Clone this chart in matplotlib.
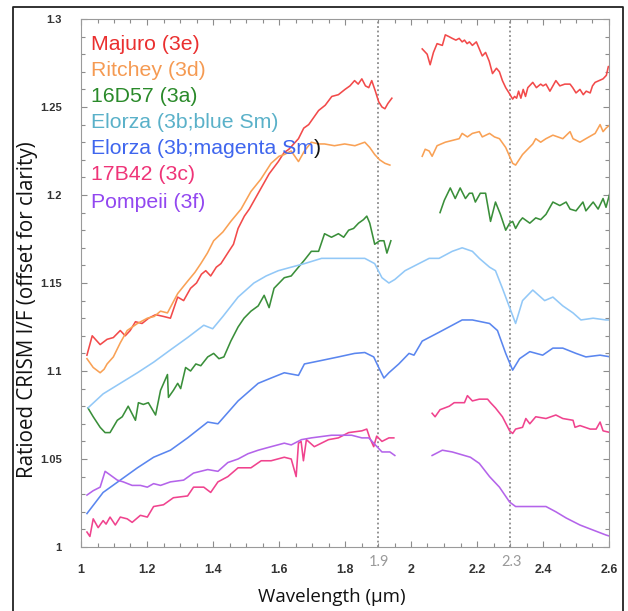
import numpy as np
import matplotlib
matplotlib.use("Agg")
import matplotlib.pyplot as plt
from matplotlib.ticker import MultipleLocator, FixedLocator
from matplotlib.lines import Line2D

nan = np.nan

# ---------------- data ----------------
majuro_w = [1.018, 1.034, 1.058, 1.079, 1.098, 1.119, 1.134, 1.149, 1.165, 1.185, 1.205, 1.226, 1.250, 1.271,
            1.293, 1.311, 1.332, 1.350, 1.365, 1.378, 1.393, 1.410, 1.424, 1.448, 1.462, 1.476, 1.495, 1.510,
            1.537, 1.555, 1.570, 1.598, 1.615, 1.630, 1.659, 1.675, 1.690, 1.720, 1.740, 1.760, 1.780, 1.800,
            1.815, 1.829, 1.840, 1.851, 1.862, 1.872, 1.881, 1.892, 1.902, 1.912, 1.921, 1.930, 1.942,
            1.990,
            2.034, 2.049, 2.058, 2.068, 2.079, 2.095, 2.104, 2.115, 2.125, 2.136, 2.146, 2.155, 2.162, 2.170,
            2.177, 2.186, 2.198, 2.207, 2.216, 2.226, 2.237, 2.247, 2.259, 2.268, 2.277, 2.287, 2.297, 2.308,
            2.314, 2.320, 2.326, 2.333, 2.340, 2.347, 2.354, 2.369, 2.380, 2.393, 2.400, 2.409, 2.421, 2.430,
            2.439, 2.451, 2.466, 2.482, 2.490, 2.500, 2.512, 2.522, 2.531, 2.543, 2.550, 2.558, 2.570, 2.582,
            2.592, 2.598, 2.605]
majuro_v = [1.109, 1.120, 1.115, 1.118, 1.119, 1.123, 1.120, 1.123, 1.128, 1.127, 1.130, 1.132, 1.131, 1.130,
            1.142, 1.140, 1.147, 1.150, 1.155, 1.157, 1.154, 1.159, 1.161, 1.168, 1.172, 1.181, 1.188, 1.192,
            1.201, 1.207, 1.212, 1.219, 1.224, 1.226, 1.232, 1.238, 1.240, 1.248, 1.251, 1.256, 1.257, 1.260,
            1.262, 1.265, 1.263, 1.266, 1.262, 1.261, 1.265, 1.259, 1.253, 1.250, 1.249, 1.252, 1.255,
            nan,
            1.283, 1.280, 1.274, 1.281, 1.286, 1.285, 1.291, 1.290, 1.289, 1.288, 1.289, 1.287, 1.288, 1.286,
            1.287, 1.285, 1.287, 1.283, 1.279, 1.281, 1.276, 1.269, 1.272, 1.270, 1.265, 1.261, 1.258, 1.2545,
            1.256, 1.255, 1.259, 1.255, 1.260, 1.256, 1.261, 1.264, 1.261, 1.263, 1.262, 1.263, 1.259, 1.262,
            1.265, 1.262, 1.263, 1.263, 1.261, 1.258, 1.260, 1.257, 1.259, 1.258, 1.262, 1.264, 1.265, 1.266,
            1.268, 1.273, 1.273]

ritchey_w = [1.018, 1.037, 1.058, 1.070, 1.079, 1.098, 1.119, 1.140, 1.171, 1.201, 1.222, 1.241, 1.262, 1.293,
             1.323, 1.345, 1.363, 1.383, 1.402, 1.430, 1.454, 1.485, 1.515, 1.545, 1.576, 1.600, 1.616, 1.637,
             1.659, 1.677, 1.698, 1.720, 1.738, 1.768, 1.799, 1.830, 1.860, 1.875, 1.890, 1.905, 1.921, 1.936,
             1.990,
             2.034, 2.043, 2.055, 2.064, 2.079, 2.104, 2.125, 2.146, 2.155, 2.171, 2.186, 2.207, 2.216, 2.238,
             2.253, 2.268, 2.287, 2.308, 2.317, 2.338, 2.369, 2.378, 2.393, 2.409, 2.430, 2.445, 2.460, 2.482,
             2.491, 2.512, 2.530, 2.558, 2.573, 2.582, 2.591, 2.604]
ritchey_v = [1.107, 1.102, 1.099, 1.101, 1.104, 1.108, 1.116, 1.123, 1.127, 1.130, 1.131, 1.134, 1.133, 1.144,
             1.151, 1.156, 1.161, 1.167, 1.174, 1.179, 1.185, 1.192, 1.202, 1.209, 1.218, 1.222, 1.223, 1.225,
             1.219, 1.225, 1.230, 1.229, 1.229, 1.228, 1.229, 1.228, 1.230, 1.227, 1.223, 1.220, 1.218, 1.217,
             nan,
             1.222, 1.226, 1.225, 1.222, 1.228, 1.230, 1.231, 1.232, 1.235, 1.233, 1.235, 1.236, 1.233, 1.235,
             1.233, 1.232, 1.227, 1.218, 1.217, 1.223, 1.229, 1.232, 1.230, 1.232, 1.234, 1.233, 1.232, 1.236,
             1.232, 1.230, 1.232, 1.235, 1.240, 1.236, 1.238, 1.240]

d16_w = [1.021, 1.037, 1.058, 1.073, 1.088, 1.110, 1.125, 1.143, 1.165, 1.174, 1.189, 1.204, 1.226, 1.241,
         1.262, 1.265, 1.280, 1.293, 1.302, 1.317, 1.332, 1.348, 1.363, 1.384, 1.402, 1.418, 1.433, 1.454,
         1.476, 1.494, 1.515, 1.537, 1.555, 1.570, 1.585, 1.616, 1.637, 1.659, 1.677, 1.698, 1.720, 1.738,
         1.759, 1.780, 1.796, 1.811, 1.826, 1.841, 1.856, 1.866, 1.875, 1.890, 1.905, 1.918, 1.927, 1.939,
         2.010,
         2.088, 2.101, 2.119, 2.134, 2.149, 2.165, 2.177, 2.186, 2.195, 2.210, 2.226, 2.241, 2.256, 2.271,
         2.287, 2.299, 2.308, 2.317, 2.329, 2.338, 2.360, 2.378, 2.393, 2.409, 2.430, 2.451, 2.470, 2.482,
         2.500, 2.521, 2.530, 2.552, 2.567, 2.582, 2.591, 2.604]
d16_v = [1.079, 1.074, 1.068, 1.065, 1.065, 1.072, 1.074, 1.080, 1.072, 1.082, 1.081, 1.082, 1.075, 1.089,
         1.098, 1.085, 1.089, 1.093, 1.090, 1.102, 1.100, 1.104, 1.103, 1.108, 1.110, 1.107, 1.108, 1.117,
         1.125, 1.130, 1.134, 1.137, 1.143, 1.136, 1.147, 1.153, 1.154, 1.159, 1.163, 1.168, 1.168, 1.178,
         1.176, 1.178, 1.176, 1.180, 1.181, 1.184, 1.186, 1.188, 1.184, 1.172, 1.174, 1.174, 1.167, 1.174,
         nan,
         1.190, 1.197, 1.204, 1.198, 1.204, 1.198, 1.201, 1.201, 1.196, 1.201, 1.201, 1.185, 1.196, 1.189,
         1.180, 1.184, 1.185, 1.181, 1.185, 1.187, 1.184, 1.187, 1.186, 1.189, 1.196, 1.194, 1.196, 1.192,
         1.191, 1.196, 1.191, 1.196, 1.192, 1.198, 1.193, 1.202]

elorza_blue_w = [1.021, 1.067, 1.119, 1.171, 1.220, 1.271, 1.323, 1.372, 1.399, 1.430, 1.476, 1.524, 1.561,
                 1.598, 1.637, 1.677, 1.729, 1.780, 1.820, 1.860, 1.890, 1.912, 1.933, 1.951, 1.982, 2.055,
                 2.085, 2.125, 2.155, 2.186, 2.207, 2.238, 2.256, 2.277, 2.299, 2.317, 2.338, 2.369, 2.405,
                 2.430, 2.460, 2.491, 2.515, 2.552, 2.591, 2.605]
elorza_blue_v = [1.079, 1.087, 1.093, 1.099, 1.105, 1.112, 1.119, 1.126, 1.124, 1.131, 1.142, 1.150, 1.154,
                 1.157, 1.159, 1.161, 1.164, 1.164, 1.164, 1.164, 1.161, 1.153, 1.150, 1.152, 1.157, 1.164,
                 1.164, 1.168, 1.170, 1.168, 1.164, 1.159, 1.157, 1.147, 1.136, 1.127, 1.140, 1.146, 1.140,
                 1.142, 1.137, 1.133, 1.129, 1.130, 1.129, 1.129]

elorza_mag_w = [1.018, 1.067, 1.119, 1.171, 1.220, 1.271, 1.323, 1.384, 1.415, 1.476, 1.537, 1.576, 1.616,
                1.659, 1.677, 1.729, 1.780, 1.829, 1.860, 1.887, 1.902, 1.918, 1.933, 1.963, 1.994, 2.009,
                2.034, 2.085, 2.155, 2.186, 2.238, 2.262, 2.287, 2.308, 2.329, 2.360, 2.399, 2.430, 2.460,
                2.500, 2.530, 2.573, 2.605]
elorza_mag_v = [1.019, 1.031, 1.038, 1.045, 1.051, 1.055, 1.062, 1.071, 1.070, 1.083, 1.093, 1.096, 1.099,
                1.0975, 1.104, 1.106, 1.108, 1.110, 1.1105, 1.108, 1.102, 1.096, 1.099, 1.104, 1.110, 1.109,
                1.117, 1.122, 1.129, 1.129, 1.127, 1.123, 1.110, 1.1005, 1.107, 1.111, 1.109, 1.113, 1.113,
                1.110, 1.108, 1.109, 1.108]

b17_w = [1.018, 1.027, 1.037, 1.052, 1.067, 1.076, 1.088, 1.104, 1.119, 1.140, 1.155, 1.180, 1.201, 1.220,
         1.250, 1.280, 1.323, 1.341, 1.372, 1.393, 1.415, 1.445, 1.476, 1.515, 1.546, 1.576, 1.616, 1.637,
         1.652, 1.659, 1.667, 1.674, 1.683, 1.707, 1.750, 1.780, 1.811, 1.851, 1.866, 1.875, 1.887, 1.896,
         1.912, 1.933, 1.948,
         2.000,
         2.064, 2.073, 2.088, 2.116, 2.131, 2.162, 2.171, 2.186, 2.207, 2.232, 2.241, 2.256, 2.277, 2.299,
         2.308, 2.317, 2.338, 2.348, 2.360, 2.378, 2.409, 2.439, 2.460, 2.491, 2.497, 2.512, 2.543, 2.561,
         2.573, 2.582, 2.605]
b17_v = [1.0085, 1.006, 1.016, 1.011, 1.015, 1.013, 1.017, 1.0125, 1.017, 1.016, 1.014, 1.018, 1.017, 1.023,
         1.024, 1.028, 1.029, 1.034, 1.034, 1.031, 1.037, 1.040, 1.045, 1.045, 1.049, 1.049, 1.051, 1.050,
         1.040, 1.059, 1.060, 1.049, 1.061, 1.057, 1.061, 1.062, 1.065, 1.066, 1.067, 1.062, 1.057, 1.063,
         1.060, 1.062, 1.062,
         nan,
         1.076, 1.074, 1.078, 1.080, 1.082, 1.082, 1.086, 1.083, 1.084, 1.084, 1.082, 1.079, 1.074, 1.066,
         1.0645, 1.067, 1.068, 1.073, 1.070, 1.074, 1.073, 1.075, 1.073, 1.072, 1.068, 1.069, 1.067, 1.067,
         1.071, 1.066, 1.065]

pompeii_w = [1.018, 1.037, 1.058, 1.073, 1.088, 1.110, 1.128, 1.155, 1.180, 1.201, 1.220, 1.241, 1.271,
             1.311, 1.341, 1.384, 1.415, 1.445, 1.476, 1.506, 1.537, 1.576, 1.616, 1.637, 1.668, 1.698,
             1.759, 1.820, 1.851, 1.872, 1.887, 1.912, 1.936, 1.951,
             2.000,
             2.064, 2.095, 2.125, 2.180, 2.207, 2.238, 2.268, 2.299, 2.317, 2.369, 2.409, 2.439, 2.470,
             2.512, 2.552, 2.591, 2.605]
pompeii_v = [1.0295, 1.032, 1.034, 1.043, 1.041, 1.038, 1.037, 1.035, 1.035, 1.034, 1.036, 1.035, 1.037,
             1.038, 1.042, 1.044, 1.043, 1.048, 1.050, 1.053, 1.055, 1.057, 1.059, 1.058, 1.061, 1.062,
             1.0635, 1.0635, 1.062, 1.062, 1.059, 1.054, 1.054, 1.052,
             nan,
             1.052, 1.055, 1.054, 1.051, 1.0475, 1.040, 1.034, 1.0255, 1.023, 1.023, 1.023, 1.020, 1.0165,
             1.0125, 1.0096, 1.0068, 1.006]

series_names = ["Majuro (3e)", "Ritchey (3d)", "16D57 (3a)", "Elorza (3b;blue Sm)",
                "Elorza (3b;magenta Sm", "17B42 (3c)", "Pompeii (3f)"]
line_colors = ["#f24a4a", "#f9a155", "#3a8f3a", "#92c8f7", "#5a86ef", "#f0438e", "#b464ea"]
text_colors = ["#ea2f2f", "#f59a52", "#2a8a2a", "#5ab1c9", "#3f66ee", "#ef3478", "#9247f0"]
series_w = [majuro_w, ritchey_w, d16_w, elorza_blue_w, elorza_mag_w, b17_w, pompeii_w]
series_v = [majuro_v, ritchey_v, d16_v, elorza_blue_v, elorza_mag_v, b17_v, pompeii_v]

x_ticks = [1, 1.2, 1.4, 1.6, 1.8, 2, 2.2, 2.4, 2.6]
x_ticklabels = ["1", "1.2", "1.4", "1.6", "1.8", "2", "2.2", "2.4", "2.6"]
y_ticks = [1, 1.05, 1.1, 1.15, 1.2, 1.25, 1.3]
y_ticklabels = ["1", "1.05", "1.1", "1.15", "1.2", "1.25", "1.3"]
band_lines = [1.9, 2.3]
band_labels = ["1.9", "2.3"]

# ---------------- figure ----------------
fig = plt.figure(figsize=(6.28, 6.11), dpi=100)
ax = fig.add_axes([81 / 628, 1 - 547 / 611, (609 - 81) / 628, (547 - 19) / 611])

for w, v, c in zip(series_w, series_v, line_colors):
    ax.plot(w, v, color=c, lw=1.15, solid_joinstyle="round")

for b in band_lines:
    ax.axvline(b, color="#8a8a8a", lw=1.3, ls=(0, (1, 1.5)), zorder=0)

ax.set_xlim(1, 2.6)
ax.set_ylim(1, 1.3)
ax.xaxis.set_major_locator(FixedLocator(x_ticks))
ax.set_xticklabels(x_ticklabels)
ax.yaxis.set_major_locator(FixedLocator(y_ticks))
ax.set_yticklabels(y_ticklabels)
ax.xaxis.set_minor_locator(MultipleLocator(0.05))
ax.yaxis.set_minor_locator(MultipleLocator(0.01))
ax.tick_params(which="both", direction="in", top=True, right=True, color="#8c8c8c", width=0.8)
ax.tick_params(which="major", length=4)
ax.tick_params(which="minor", length=3)
ax.tick_params(axis="x", which="major", pad=12, labelsize=9, labelcolor="#333333")
ax.tick_params(axis="y", which="major", pad=14, labelsize=8, labelcolor="#333333")
for lab in ax.get_xticklabels() + ax.get_yticklabels():
    lab.set_fontfamily("Liberation Sans")
    lab.set_fontweight("bold")
for s in ax.spines.values():
    s.set_color("#9a9a9a")
    s.set_linewidth(0.8)

for b, lbl in zip(band_lines, band_labels):
    ax.annotate(lbl, xy=(b, 0), xycoords=("data", "axes fraction"), xytext=(1, -11),
                textcoords="offset points", ha="center", va="center",
                fontsize=10.5, color="#9a9a9a", family="Lato")

ax.set_xlabel("Wavelength (µm)", fontsize=13.5, family="Open Sans", color="#111111")
ax.xaxis.set_label_coords((332 - 81) / 528, (547 - 588) / 528)
ax.set_ylabel("Ratioed CRISM I/F (offset for clarity)", fontsize=14.8, family="Open Sans",
              color="#111111")
ax.yaxis.set_label_coords((38 - 81) / 528, (547 - 310) / 528)

# legend as coloured text
y_px = [45, 71, 97, 123, 149, 175, 202]
for name, tc, yp in zip(series_names, text_colors, y_px):
    t = ax.text((91 - 81) / (609 - 81), (547 - yp) / (547 - 19), name, transform=ax.transAxes,
                color=tc, fontsize=15.3, family="Liberation Sans", va="center", ha="left")
    if name.endswith("Sm"):
        ax.annotate(")", xy=(1, 0), xycoords=t, va="bottom", ha="left",
                    fontsize=15.3, family="Liberation Sans", color="#111111")

# outer frame (left, top, right)
fx0, fx1, fy1 = 13 / 628, 623 / 628, 1 - 7 / 611
fig.add_artist(Line2D([fx0, fx0, fx1, fx1], [0, fy1, fy1, 0], color="#222222", lw=1.3,
                      transform=fig.transFigure))

fig.savefig("out.png", dpi=100)
